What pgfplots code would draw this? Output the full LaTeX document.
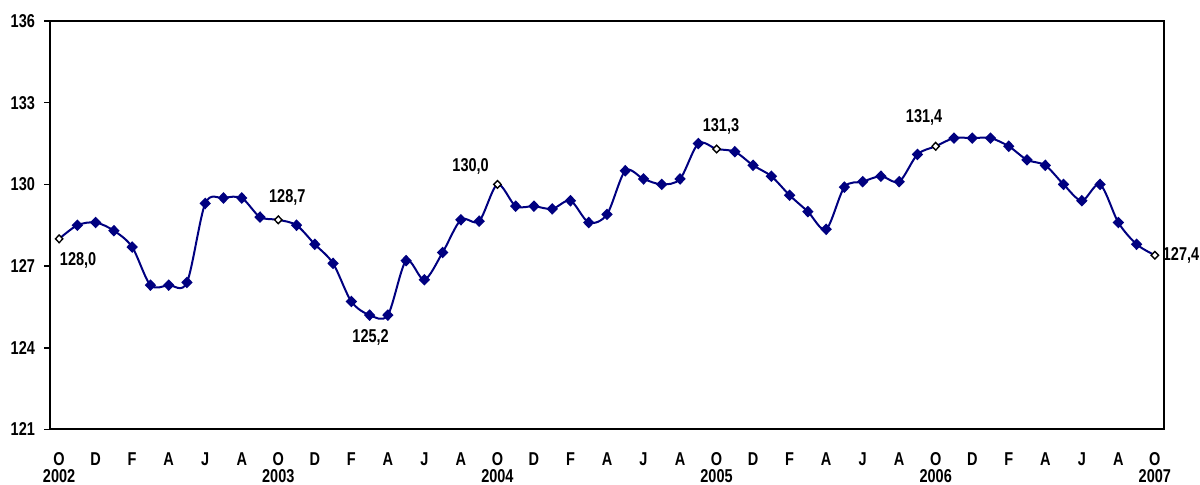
\documentclass[border=0pt]{standalone}
\usepackage{fontspec}
\setmainfont{Liberation Sans}[FakeStretch=0.78]
\usepackage{pgfplots}
\usepackage{pgfplotstable}
\pgfplotsset{compat=1.18}
\definecolor{navyline}{RGB}{0,0,128}

% monthly index, Oct 2002 (0) .. Oct 2007 (60)
\pgfplotstableread{
x y
0 128.0
1 128.5
2 128.6
3 128.3
4 127.7
5 126.3
6 126.3
7 126.4
8 129.3
9 129.5
10 129.5
11 128.8
12 128.7
13 128.5
14 127.8
15 127.1
16 125.7
17 125.2
18 125.2
19 127.2
20 126.5
21 127.5
22 128.7
23 128.65
24 130.0
25 129.2
26 129.2
27 129.1
28 129.4
29 128.6
30 128.9
31 130.5
32 130.2
33 130.0
34 130.2
35 131.5
36 131.3
37 131.2
38 130.7
39 130.3
40 129.6
41 129.0
42 128.35
43 129.9
44 130.1
45 130.3
46 130.1
47 131.1
48 131.4
49 131.7
50 131.7
51 131.7
52 131.4
53 130.9
54 130.7
55 130.0
56 129.4
57 130.0
58 128.6
59 127.8
60 127.4
}\datatable

\begin{document}
\begin{tikzpicture}[font=\bfseries\fontsize{9.3}{11}\selectfont]
\begin{axis}[
  scale only axis,
  width=557pt, height=204.25pt,
  at={(0,0)}, anchor=south west,
  xmin=-0.5, xmax=60.5,
  ymin=121, ymax=136,
  ytick={121,124,...,136},
  ytick pos=left,
  tick align=outside,
  major tick length=3pt,
  xtick={0,2,...,60},
  xticklabels={O,D,F,A,J,A,O,D,F,A,J,A,O,D,F,A,J,A,O,D,F,A,J,A,O,D,F,A,J,A,O},
  xtick style={draw=none},
  xticklabel style={yshift=-5pt},
  yticklabel style={xshift=-1pt},
  /pgf/number format/assume math mode=true,
  axis line style={line width=1pt},
  every tick/.style={line width=0.8pt, black},
  clip=false,
]
\addplot[navyline, line width=1pt, smooth, mark=diamond*, mark size=2.2pt,
  mark options={fill=navyline, draw=navyline, xscale=1.3},
  mark indices={2,3,4,5,6,7,8,9,10,11,12,14,15,16,17,18,19,20,21,22,23,24,
    26,27,28,29,30,31,32,33,34,35,36,38,39,40,41,42,43,44,45,46,47,48,
    50,51,52,53,54,55,56,57,58,59,60}]
  table[x=x,y=y] {\datatable};
\addplot[only marks, mark=diamond*, mark size=1.9pt, mark repeat=12,
  mark options={fill=white, draw=black, line width=0.7pt, xscale=1.3}]
  table[x=x,y=y] {\datatable};

\node[xshift=9.5pt, yshift=-11pt] at (axis cs:0,128.0) {128,0};
\node[xshift=4.5pt, yshift=11.3pt] at (axis cs:12,128.7) {128,7};
\node[xshift=0.5pt, yshift=-11pt] at (axis cs:17,125.2) {125,2};
\node[xshift=-13.4pt, yshift=8.8pt] at (axis cs:24,130.0) {130,0};
\node[xshift=2.2pt, yshift=11.2pt] at (axis cs:36,131.3) {131,3};
\node[xshift=-5.8pt, yshift=14.2pt] at (axis cs:48,131.4) {131,4};
\node[anchor=west, xshift=0.5pt] at (axis cs:60,127.4) {127,4};

\node[yshift=-23.3pt] at (axis cs:0,121) {2002};
\node[yshift=-23.3pt] at (axis cs:12,121) {2003};
\node[yshift=-23.3pt] at (axis cs:24,121) {2004};
\node[yshift=-23.3pt] at (axis cs:36,121) {2005};
\node[yshift=-23.3pt] at (axis cs:48,121) {2006};
\node[yshift=-23.3pt] at (axis cs:60,121) {2007};
\end{axis}
\pgfresetboundingbox
\path[use as bounding box] (-25pt,-27.75pt) rectangle (575pt,214.75pt);
\end{tikzpicture}
\end{document}
